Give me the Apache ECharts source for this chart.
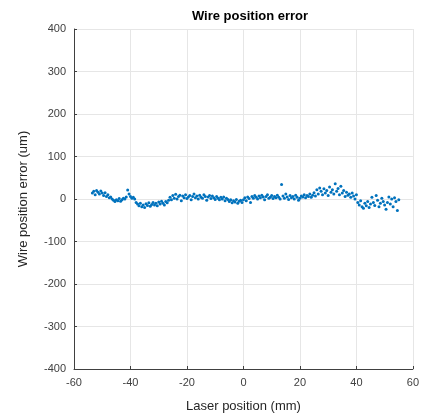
<!DOCTYPE html>
<html>
<head>
<meta charset="utf-8">
<script src="https://cdn.jsdelivr.net/npm/echarts@6/dist/echarts.min.js"></script>
<style>
  html, body { margin: 0; padding: 0; background: #fff; }
  #chart { width: 422px; height: 418px; }
</style>
</head>
<body>
<div id="chart"></div>
<script>
// laser position (mm)
const laserPos = [
  -53.5, -53, -52.5, -52, -51.5, -51, -50.5, -50, -49.5, -49, -48.5, -48, -47.5, -47, -46.5, -46,
  -45.5, -45, -44.5, -44, -43.5, -43, -42.5, -42, -41.5, -41, -40.5, -40, -39.5, -39, -38.5, -38,
  -37.5, -37, -36.5, -36, -35.5, -35, -34.5, -34, -33.5, -33, -32.5, -32, -31.5, -31, -30.5, -30,
  -29.5, -29, -28.5, -28, -27.5, -27, -26.5, -26, -25.5, -25, -24.5, -24, -23.5, -23, -22.5, -22,
  -21.5, -21, -20.5, -20, -19.5, -19, -18.5, -18, -17.5, -17, -16.5, -16, -15.5, -15, -14.5, -14,
  -13.5, -13, -12.5, -12, -11.5, -11, -10.5, -10, -9.5, -9, -8.5, -8, -7.5, -7, -6.5, -6,
  -5.5, -5, -4.5, -4, -3.5, -3, -2.5, -2, -1.5, -1, -0.5, 0, 0.5, 1, 1.5, 2,
  2.5, 3, 3.5, 4, 4.5, 5, 5.5, 6, 6.5, 7, 7.5, 8, 8.5, 9, 9.5, 10,
  10.5, 11, 11.5, 12, 12.5, 13, 13.5, 14, 14.5, 15, 15.5, 16, 16.5, 17, 17.5, 18,
  18.5, 19, 19.5, 20, 20.5, 21, 21.5, 22, 22.5, 23, 23.5, 24, 24.5, 25, 25.5, 26,
  26.5, 27, 27.5, 28, 28.5, 29, 29.5, 30, 30.5, 31, 31.5, 32, 32.5, 33, 33.5, 34,
  34.5, 35, 35.5, 36, 36.5, 37, 37.5, 38, 38.5, 39, 39.5, 40, 40.5, 41, 41.5, 42,
  42.5, 43, 43.5, 44, 44.5, 45, 45.5, 46, 46.5, 47, 47.5, 48, 48.5, 49, 49.5, 50,
  50.5, 51, 51.5, 52, 52.5, 53, 53.5, 54, 54.5, 55
];

// wire position error (um)
const wireError = [
  14, 18, 10, 20, 16, 12, 19, 14, 8, 15, 6, 10, 3, 5, 0, -3,
  -6, -2, -4, 1, -5, -2, 2, 0, 5, 21, 12, 6, 2, 4, 0, -8,
  -12, -16, -10, -18, -14, -20, -11, -15, -9, -17, -13, -8, -14, -10, -16, -7,
  -12, -5, -10, -14, -6, -9, -3, 4, -2, 8, 2, 11, 0, 6, 9, -4,
  7, 3, 10, 1, 5, 8, -2, 6, 12, 3, 7, 0, 9, 4, 2, 10,
  6, -3, 5, 8, 1, 7, 3, -1, 6, 2, -2, 4, 0, 5, -4, 2,
  -1, -6, -2, -9, -4, -7, -1, -10, -5, -3, -8, -2, 3, -4, 5, 1,
  -8, 6, 2, 8, 4, 0, 7, 3, 9, 5, -2, 6, 10, 2, 4, 8,
  1, 6, 3, 9, 4, 0, 34, 7, 2, 12, 5, -1, 8, 3, 6, 0,
  9, 4, -3, 2, 7, 5, 10, 3, 8, 6, 12, 4, 9, 15, 7, 22,
  12, 26, 18, 10, 24, 14, 20, 8, 28, 16, 22, 12, 36, 18, 25, 10,
  30, 14, 20, 6, 16, 9, 12, 4, 14, 7, 0, 10, -8, -14, -4, -18,
  -22, -10, -16, -6, -20, -12, 4, -8, -15, 8, -3, -18, -10, 2, -6, -14,
  -24, -8, 5, -12, 0, -18, 3, -6, -27, -2
];

const xTicks = [-60, -40, -20, 0, 20, 40, 60];
const yTicks = [-400, -300, -200, -100, 0, 100, 200, 300, 400];

const points = laserPos.map((x, i) => [x, wireError[i]]);

const chart = echarts.init(document.getElementById('chart'));

const axisText = { color: '#404040', fontFamily: 'Liberation Sans, Arial, sans-serif', fontSize: 11 };

chart.setOption({
  animation: false,
  title: {
    text: 'Wire position error',
    left: 245, top: 5, textAlign: 'center',
    textStyle: { fontFamily: 'Liberation Sans, Arial, sans-serif', fontSize: 13, fontWeight: 'bold', color: '#000' }
  },
  grid: { left: 74, right: 7, top: 29, bottom: 48 },
  xAxis: {
    type: 'value',
    min: xTicks[0], max: xTicks[xTicks.length - 1], interval: 20,
    name: 'Laser position (mm)', nameLocation: 'middle', nameGap: 31,
    nameTextStyle: { color: '#262626', fontFamily: 'Liberation Sans, Arial, sans-serif', fontSize: 13 },
    axisLine: { onZero: false, lineStyle: { color: '#404040', width: 1 } },
    axisTick: { inside: true, length: 3, lineStyle: { color: '#404040' } },
    axisLabel: Object.assign({ margin: 8 }, axisText),
    splitLine: { show: true, lineStyle: { color: '#e6e6e6', width: 1 } }
  },
  yAxis: {
    type: 'value',
    min: yTicks[0], max: yTicks[yTicks.length - 1], interval: 100,
    name: 'Wire position error (um)', nameLocation: 'middle', nameGap: 44,
    nameTextStyle: { color: '#262626', fontFamily: 'Liberation Sans, Arial, sans-serif', fontSize: 13 },
    axisLine: { show: true, onZero: false, lineStyle: { color: '#404040', width: 1 } },
    axisTick: { show: true, inside: true, length: 3, lineStyle: { color: '#404040' } },
    axisLabel: Object.assign({ margin: 8 }, axisText),
    splitLine: { show: true, lineStyle: { color: '#e6e6e6', width: 1 } }
  },
  series: [{
    type: 'scatter',
    data: points,
    symbol: 'circle',
    symbolSize: 3,
    itemStyle: { color: '#0072BD', opacity: 1 }
  }]
});
</script>
</body>
</html>
